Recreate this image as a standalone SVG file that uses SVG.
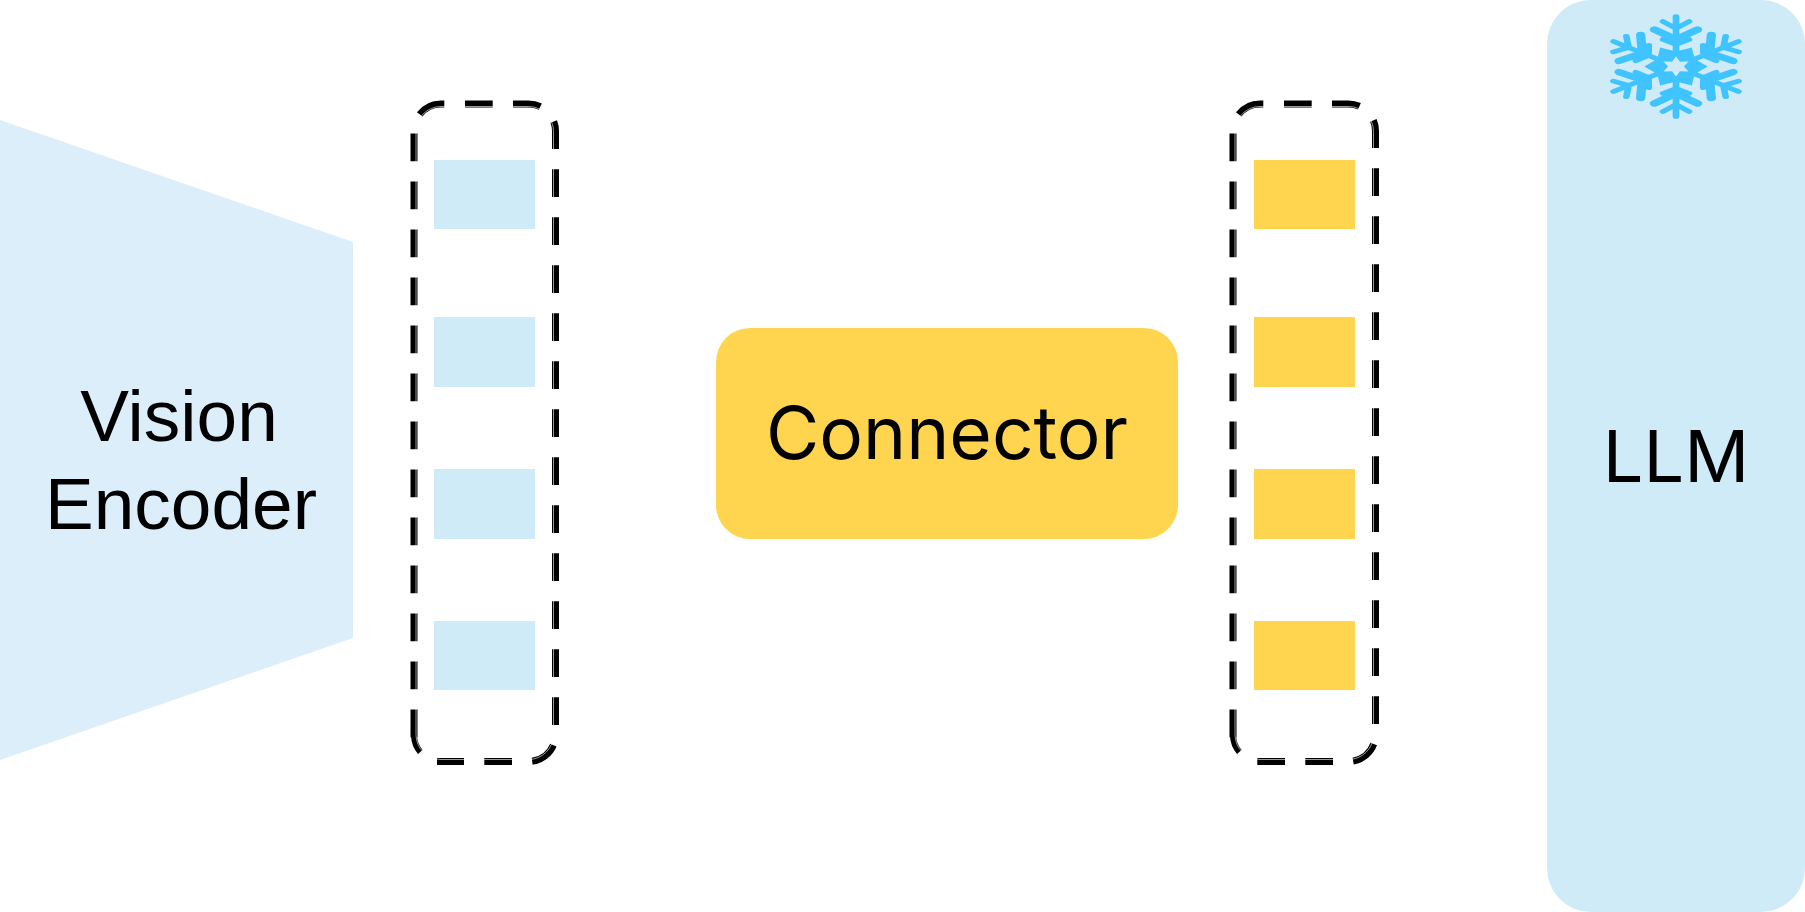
<svg xmlns="http://www.w3.org/2000/svg" width="1805" height="912" viewBox="0 0 1805 912">
<style>
.t{font-family:Inter,"Liberation Sans",sans-serif;font-size:72px;fill:#000;text-anchor:middle}
.a{font-family:"Liberation Sans",Arial,sans-serif;font-size:73px;fill:#000;text-anchor:middle}
.b{fill:#ceebf7}.y{fill:#ffd54f}
.d{fill:none;stroke:#000;stroke-width:7;stroke-dasharray:27.7 20.3}
.e{fill:none;stroke:#000;stroke-width:6}
.w{fill:none;stroke:#fff;stroke-opacity:.6;stroke-width:1}
.f{stroke:#40c4ff;fill:none;stroke-linecap:round}
</style>
<defs>
<g id="arm"><path class="f" stroke-width="4.6" d="M0,-13V-50M0,-38L9,-45M0,-38L-9,-45M0,-22L9,-27M0,-22L-9,-27"/><path class="f" stroke-width="6.400" d="M0,-27L15,-37M0,-27L-15,-37"/></g>
</defs>
<rect width="1805" height="912" fill="#fff"/>
<g id="vision-encoder"><polygon points="0,120 353,242 353,638 0,760" fill="#dceef9"/><text class="a" x="179" y="441">Vision</text><text class="a" x="181" y="529">Encoder</text></g>
<g id="llm"><rect x="1547" y="0" width="258" height="912" rx="44" class="b"/><text class="t" x="1676" y="482">LLM</text>
<g id="snowflake" transform="translate(1676,66.500) scale(1.44,1)">
<use href="#arm"/><use href="#arm" transform="rotate(60)"/><use href="#arm" transform="rotate(120)"/><use href="#arm" transform="rotate(180)"/><use href="#arm" transform="rotate(240)"/><use href="#arm" transform="rotate(300)"/>
<path fill="#40c4ff" fill-rule="evenodd" d="M22,0L13,7.500L11,19L0,15L-11,19L-13,7.500L-22,0L-13,-7.500L-11,-19L0,-15L11,-19L13,-7.500ZM8.700,-5L5.500,0L8.700,5L2.750,4.800L0,10L-2.750,4.800L-8.700,5L-5.500,0L-8.700,-5L-2.750,-4.800L0,-10L2.750,-4.800Z"/>
</g></g>
<g id="connector"><rect x="716" y="328" width="462" height="211" rx="34" class="y"/><text class="t" x="947" y="459" style="font-size:73px">Connector</text></g>
<g id="blue-tokens" class="b"><rect x="434" y="160" width="101" height="69"/><rect x="434" y="317" width="101" height="70"/><rect x="434" y="469" width="101" height="70"/><rect x="434" y="621" width="101" height="69"/></g>
<g id="yellow-tokens" class="y"><rect x="1254" y="160" width="101" height="69"/><rect x="1254" y="317" width="101" height="70"/><rect x="1254" y="469" width="101" height="70"/><rect x="1254" y="621" width="101" height="69"/></g>
<g id="connectors">
<path class="d" d="M465,104H528.500A27,27 0 0 1 555.500,131V734.500A27,27 0 0 1 528.500,761.500H437"/>
<path class="d" d="M444.300,104H441A27,27 0 0 0 414,131V738"/>
<path class="e" d="M414,736A27,27 0 0 0 420.300,752"/>
<rect class="w" x="416" y="106.500" width="137.500" height="653" rx="25"/>
<path class="d" d="M1284,104H1348.500A27,27 0 0 1 1375.500,131V734.500A27,27 0 0 1 1348.500,761.500H1256"/>
<path class="d" d="M1263.300,104H1260A27,27 0 0 0 1233,131V738"/>
<path class="e" d="M1233,736A27,27 0 0 0 1239.300,752"/>
<rect class="w" x="1235" y="106.500" width="138.500" height="653" rx="25"/>
</g>
</svg>
